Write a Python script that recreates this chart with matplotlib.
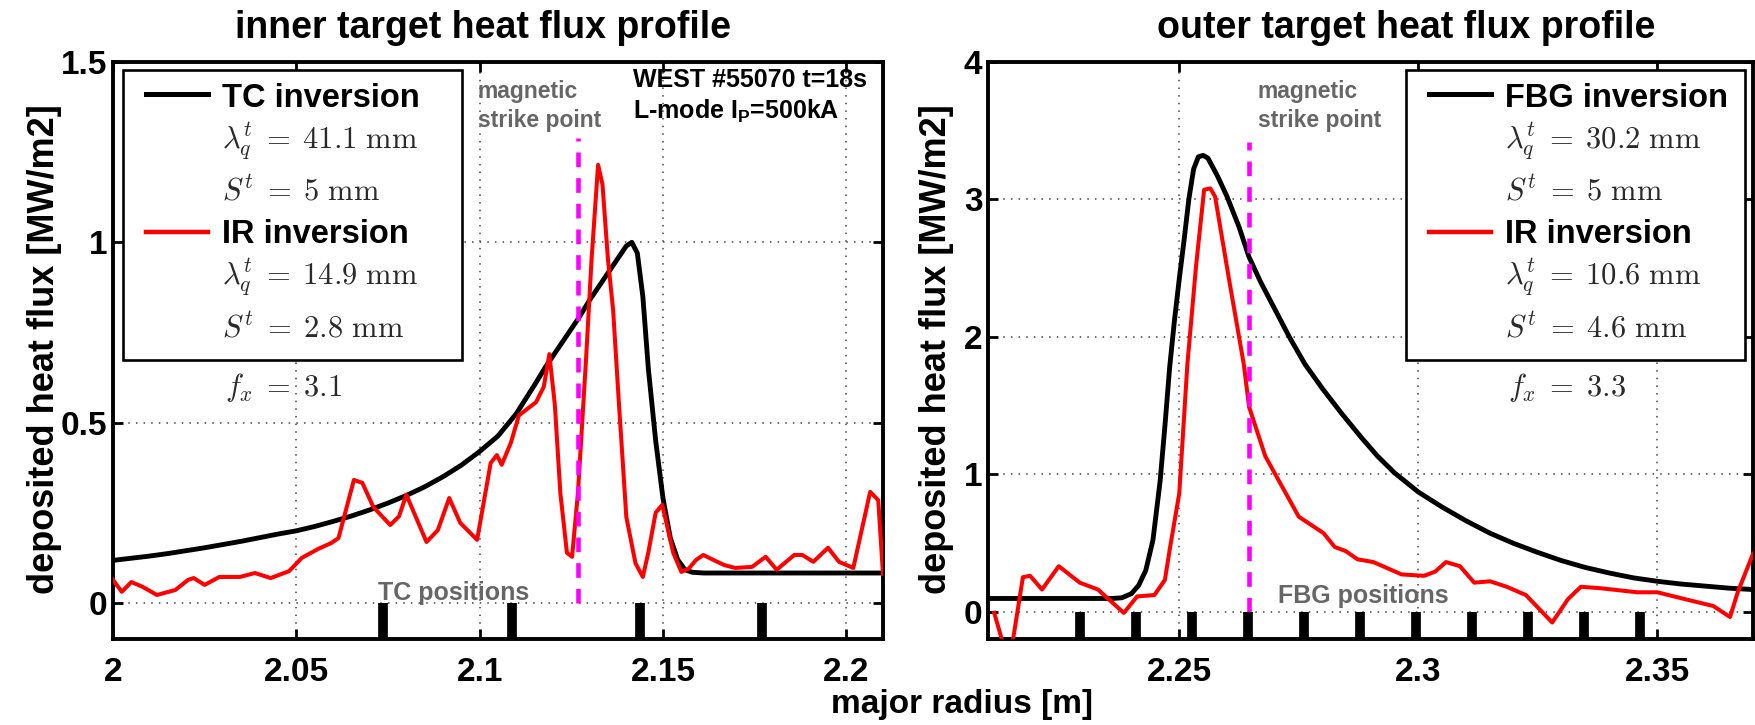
import matplotlib
matplotlib.use('Agg')
import matplotlib.pyplot as plt
from matplotlib.lines import Line2D
from matplotlib.patches import Rectangle

plt.rcParams['font.family'] = ['Liberation Sans', 'DejaVu Sans']
plt.rcParams['font.weight'] = 'bold'
plt.rcParams['mathtext.fontset'] = 'cm'
plt.rcParams['mathtext.rm'] = 'Liberation Sans:bold'
plt.rcParams['mathtext.it'] = 'Liberation Sans:bold'
plt.rcParams['mathtext.bf'] = 'Liberation Sans:bold'

# ---------------- data ----------------
inner_tc_R = [2.000, 2.005, 2.010, 2.015, 2.020, 2.025, 2.030, 2.035, 2.040, 2.045,
              2.050, 2.055, 2.060, 2.065, 2.070, 2.075, 2.080, 2.085, 2.090, 2.095,
              2.100, 2.105, 2.110, 2.115, 2.118, 2.121, 2.124, 2.127, 2.130, 2.133,
              2.136, 2.138, 2.140, 2.1415, 2.143, 2.1445, 2.146, 2.148, 2.150, 2.152,
              2.154, 2.156, 2.158, 2.161, 2.210]
inner_tc_q = [0.118, 0.124, 0.130, 0.137, 0.145, 0.153, 0.162, 0.171, 0.181, 0.191,
              0.200, 0.212, 0.226, 0.241, 0.258, 0.277, 0.298, 0.322, 0.350, 0.382,
              0.420, 0.463, 0.525, 0.605, 0.655, 0.700, 0.745, 0.790, 0.840, 0.885,
              0.930, 0.960, 0.990, 1.000, 0.970, 0.850, 0.650, 0.450, 0.290, 0.180,
              0.120, 0.092, 0.085, 0.083, 0.083]

inner_ir_R = [2.0000, 2.0024, 2.0050, 2.0080, 2.0120, 2.0170, 2.0205, 2.0220, 2.0250, 2.0290,
              2.0346, 2.0387, 2.0430, 2.0480, 2.0515, 2.0560, 2.0595, 2.0615, 2.0657, 2.0680,
              2.0710, 2.0756, 2.0780, 2.0800, 2.0855, 2.0886, 2.0917, 2.0947, 2.0993, 2.1030,
              2.1047, 2.1060, 2.1085, 2.1107, 2.1154, 2.1175, 2.1190, 2.1205, 2.1220, 2.1238,
              2.1252, 2.1268, 2.1290, 2.1305, 2.1323, 2.1335, 2.1350, 2.1364, 2.1380, 2.1400,
              2.1425, 2.1445, 2.1460, 2.1480, 2.1498, 2.1528, 2.1550, 2.1570, 2.1590, 2.1610,
              2.1640, 2.1667, 2.1697, 2.1743, 2.1780, 2.1810, 2.1858, 2.1880, 2.1910, 2.1950,
              2.1980, 2.2019, 2.2065, 2.2087, 2.2100]
inner_ir_q = [0.064, 0.031, 0.058, 0.045, 0.022, 0.036, 0.064, 0.069, 0.050, 0.072,
              0.072, 0.083, 0.069, 0.088, 0.125, 0.150, 0.166, 0.180, 0.341, 0.333,
              0.266, 0.216, 0.240, 0.300, 0.169, 0.202, 0.291, 0.222, 0.175, 0.388,
              0.410, 0.383, 0.444, 0.520, 0.557, 0.600, 0.690, 0.550, 0.305, 0.139,
              0.128, 0.305, 0.674, 0.950, 1.215, 1.160, 0.951, 0.812, 0.550, 0.238,
              0.110, 0.072, 0.140, 0.250, 0.272, 0.139, 0.086, 0.095, 0.119, 0.133,
              0.118, 0.105, 0.097, 0.100, 0.128, 0.092, 0.133, 0.133, 0.114, 0.153,
              0.114, 0.097, 0.308, 0.285, 0.080]

outer_fbg_R = [2.210, 2.236, 2.238, 2.240, 2.2415, 2.243, 2.2445, 2.246, 2.247, 2.248,
               2.249, 2.250, 2.251, 2.252, 2.253, 2.254, 2.255, 2.256, 2.258, 2.260,
               2.2625, 2.2646, 2.267, 2.270, 2.273, 2.2763, 2.280, 2.284, 2.288, 2.2915,
               2.295, 2.300, 2.305, 2.310, 2.315, 2.320, 2.325, 2.330, 2.335, 2.340,
               2.345, 2.350, 2.355, 2.360, 2.365, 2.370]
outer_fbg_q = [0.095, 0.095, 0.100, 0.130, 0.190, 0.300, 0.520, 0.950, 1.350, 1.780,
               2.120, 2.420, 2.700, 3.000, 3.220, 3.310, 3.320, 3.300, 3.170, 3.020,
               2.800, 2.580, 2.400, 2.200, 2.000, 1.800, 1.620, 1.440, 1.270, 1.130,
               1.010, 0.870, 0.760, 0.660, 0.570, 0.495, 0.430, 0.370, 0.320, 0.280,
               0.245, 0.220, 0.200, 0.185, 0.170, 0.160]

outer_ir_R = [2.2113, 2.2137, 2.2148, 2.2173, 2.2188, 2.2213, 2.2248, 2.2292, 2.2330, 2.2384,
              2.2412, 2.2448, 2.2470, 2.2480, 2.2500, 2.2517, 2.2535, 2.2552, 2.2565, 2.2575,
              2.2605, 2.2635, 2.2646, 2.2680, 2.2750, 2.2802, 2.2825, 2.2848, 2.2873, 2.2906,
              2.2965, 2.3012, 2.3035, 2.3058, 2.3087, 2.3117, 2.3150, 2.3185, 2.3225, 2.3280,
              2.3313, 2.3340, 2.3380, 2.3458, 2.3500, 2.3558, 2.3617, 2.3652, 2.3668, 2.3700]
outer_ir_q = [-0.01, -0.30, -0.30, 0.25, 0.26, 0.16, 0.33, 0.21, 0.16, -0.01,
              0.11, 0.12, 0.23, 0.45, 0.86, 1.80, 2.51, 3.07, 3.08, 3.02,
              2.40, 1.80, 1.49, 1.13, 0.69, 0.57, 0.47, 0.44, 0.38, 0.36,
              0.27, 0.26, 0.29, 0.36, 0.33, 0.21, 0.22, 0.18, 0.12, -0.08,
              0.09, 0.18, 0.17, 0.14, 0.14, 0.09, 0.04, -0.04, 0.14, 0.42]

tc_positions = [2.0737, 2.1088, 2.1437, 2.1770]
fbg_positions = [2.2293, 2.2410, 2.2527, 2.2644, 2.2761, 2.2878, 2.2995,
                 2.3112, 2.3229, 2.3346, 2.3463]

inner_strike = 2.1268
inner_strike_top = 1.29
outer_strike = 2.2646
outer_strike_top = 3.42

inner_xlim = (2.0, 2.21)
inner_ylim = (-0.1, 1.5)
outer_xlim = (2.21, 2.37)
outer_ylim = (-0.2, 4.0)

inner_xticks = [2.0, 2.05, 2.1, 2.15, 2.2]
inner_xticklabels = ['2', '2.05', '2.1', '2.15', '2.2']
inner_yticks = [0, 0.5, 1.0, 1.5]
inner_yticklabels = ['0', '0.5', '1', '1.5']
outer_xticks = [2.25, 2.3, 2.35]
outer_xticklabels = ['2.25', '2.3', '2.35']
outer_yticks = [0, 1, 2, 3, 4]
outer_yticklabels = ['0', '1', '2', '3', '4']

inner_title = 'inner target heat flux profile'
outer_title = 'outer target heat flux profile'
ylabel = 'deposited heat flux [MW/m2]'
xlabel = 'major radius [m]'

inner_legend = ['TC inversion', r'$\lambda_q^t \;=\; 41.1\ \mathrm{mm}$', r'$S^t \;=\; 5\ \mathrm{mm}$',
                'IR inversion', r'$\lambda_q^t \;=\; 14.9\ \mathrm{mm}$', r'$S^t \;=\; 2.8\ \mathrm{mm}$']
inner_fx = r'$f_x \;=\; 3.1$'
outer_legend = ['FBG inversion', r'$\lambda_q^t \;=\; 30.2\ \mathrm{mm}$', r'$S^t \;=\; 5\ \mathrm{mm}$',
                'IR inversion', r'$\lambda_q^t \;=\; 10.6\ \mathrm{mm}$', r'$S^t \;=\; 4.6\ \mathrm{mm}$']
outer_fx = r'$f_x \;=\; 3.3$'

# ---------------- layout helpers ----------------
W, H = 1756, 725
fig = plt.figure(figsize=(W / 100, H / 100), dpi=100)


def px(x):
    return x / W


def py(y):
    return 1 - y / H


ax1 = fig.add_axes([px(113), py(639), px(883) - px(113), py(62) - py(639)])
ax2 = fig.add_axes([px(988), py(639), px(1753) - px(988), py(62) - py(639)])

GRID = dict(color='#444444', linestyle=(0, (1, 4)), linewidth=1.1)


def style(ax, xlim, ylim, xt, xtl, yt, ytl):
    ax.set_xlim(*xlim)
    ax.set_ylim(*ylim)
    ax.set_xticks(xt, xtl)
    ax.set_yticks(yt, ytl)
    ax.tick_params(direction='in', length=7, width=2, top=True, right=True,
                   labelsize=24)
    ax.tick_params(axis='x', pad=13)
    ax.tick_params(axis='y', pad=4)
    for lab in ax.get_xticklabels() + ax.get_yticklabels():
        lab.set_fontweight('bold')
    for s in ax.spines.values():
        s.set_linewidth(2.8)
    ax.grid(True, **GRID)
    ax.set_axisbelow(True)


style(ax1, inner_xlim, inner_ylim, inner_xticks, inner_xticklabels, inner_yticks, inner_yticklabels)
style(ax2, outer_xlim, outer_ylim, outer_xticks, outer_xticklabels, outer_yticks, outer_yticklabels)

# ---------------- curves ----------------
ax1.plot(inner_tc_R, inner_tc_q, color='black', lw=3.5, zorder=3, solid_joinstyle='round')
ax1.plot(inner_ir_R, inner_ir_q, color='red', lw=2.9, zorder=4, solid_joinstyle='round')
ax1.vlines([inner_strike], 0, inner_strike_top, colors='#ff00ff', lw=3.3,
           linestyles=[(0, (3.2, 2.4))], zorder=5)
ax1.vlines(tc_positions, inner_ylim[0], 0, colors='black', lw=7, zorder=5)

ax2.plot(outer_fbg_R, outer_fbg_q, color='black', lw=3.5, zorder=3, solid_joinstyle='round')
ax2.plot(outer_ir_R, outer_ir_q, color='red', lw=2.9, zorder=4, solid_joinstyle='round')
ax2.vlines([outer_strike], 0, outer_strike_top, colors='#ff00ff', lw=3.3,
           linestyles=[(0, (3.2, 2.4))], zorder=5)
ax2.vlines(fbg_positions, outer_ylim[0], 0, colors='black', lw=7, zorder=5)

# ---------------- annotations ----------------
GRAY = '#666666'
fig.text(px(454), py(600), 'TC positions', color=GRAY, fontsize=18,
         fontweight='bold', ha='center', va='baseline')
fig.text(px(1363), py(603), 'FBG positions', color=GRAY, fontsize=18,
         fontweight='bold', ha='center', va='baseline')

for x0 in (478, 1258):
    fig.text(px(x0), py(98), 'magnetic', color=GRAY, fontsize=16.5, fontweight='bold',
             ha='left', va='baseline')
    fig.text(px(x0), py(127), 'strike point', color=GRAY, fontsize=16.5, fontweight='bold',
             ha='left', va='baseline')

fig.text(px(633), py(87), 'WEST #55070 t=18s', color='black', fontsize=18,
         fontweight='bold', ha='left', va='baseline')
fig.text(px(633), py(119), r'L-mode I$_\mathrm{P}$=500kA', color='black', fontsize=18,
         fontweight='bold', ha='left', va='baseline', math_fontfamily='custom')

# legends drawn as boxes
MATHC = '#2a2a2a'


def legend_box(x0, x1, entries, fxtxt):
    fig.add_artist(Rectangle((px(x0), py(360)), px(x1) - px(x0), py(70) - py(360),
                             transform=fig.transFigure, facecolor='white',
                             edgecolor='black', lw=1.9, zorder=6))
    hx0, hx1, tx = x0 + 23, x0 + 85, x0 + 99
    fig.add_artist(Line2D([px(hx0), px(hx1)], [py(94), py(94)], color='black',
                          lw=3.6, transform=fig.transFigure, zorder=7))
    fig.add_artist(Line2D([px(hx0), px(hx1)], [py(232), py(232)], color='red',
                          lw=3.2, transform=fig.transFigure, zorder=7))
    baselines = [107, 149, 200, 243, 285, 337]
    for i, (txt, b) in enumerate(zip(entries, baselines)):
        if i in (0, 3):
            fig.text(px(tx), py(b), txt, fontsize=23.5, fontweight='bold', color='black',
                     ha='left', va='baseline', zorder=8)
        else:
            fig.text(px(tx), py(b), txt, fontsize=22, color=MATHC,
                     ha='left', va='baseline', zorder=8)
    fig.text(px(tx + 3), py(396), fxtxt, fontsize=22, color=MATHC,
             ha='left', va='baseline', zorder=8)


legend_box(123, 462, inner_legend, inner_fx)
legend_box(1406, 1745, outer_legend, outer_fx)

# titles and labels
fig.text(px(483), py(38), inner_title, fontsize=27, fontweight='bold',
         ha='center', va='baseline')
fig.text(px(1406), py(38), outer_title, fontsize=27, fontweight='bold',
         ha='center', va='baseline')
fig.text(px(45), py(349), ylabel, fontsize=26, fontweight='bold', rotation=90,
         ha='center', va='center')
fig.text(px(937), py(349), ylabel, fontsize=26, fontweight='bold', rotation=90,
         ha='center', va='center')
fig.text(px(962), py(713), xlabel, fontsize=24, fontweight='bold',
         ha='center', va='baseline')

fig.savefig('out.png', dpi=100)
